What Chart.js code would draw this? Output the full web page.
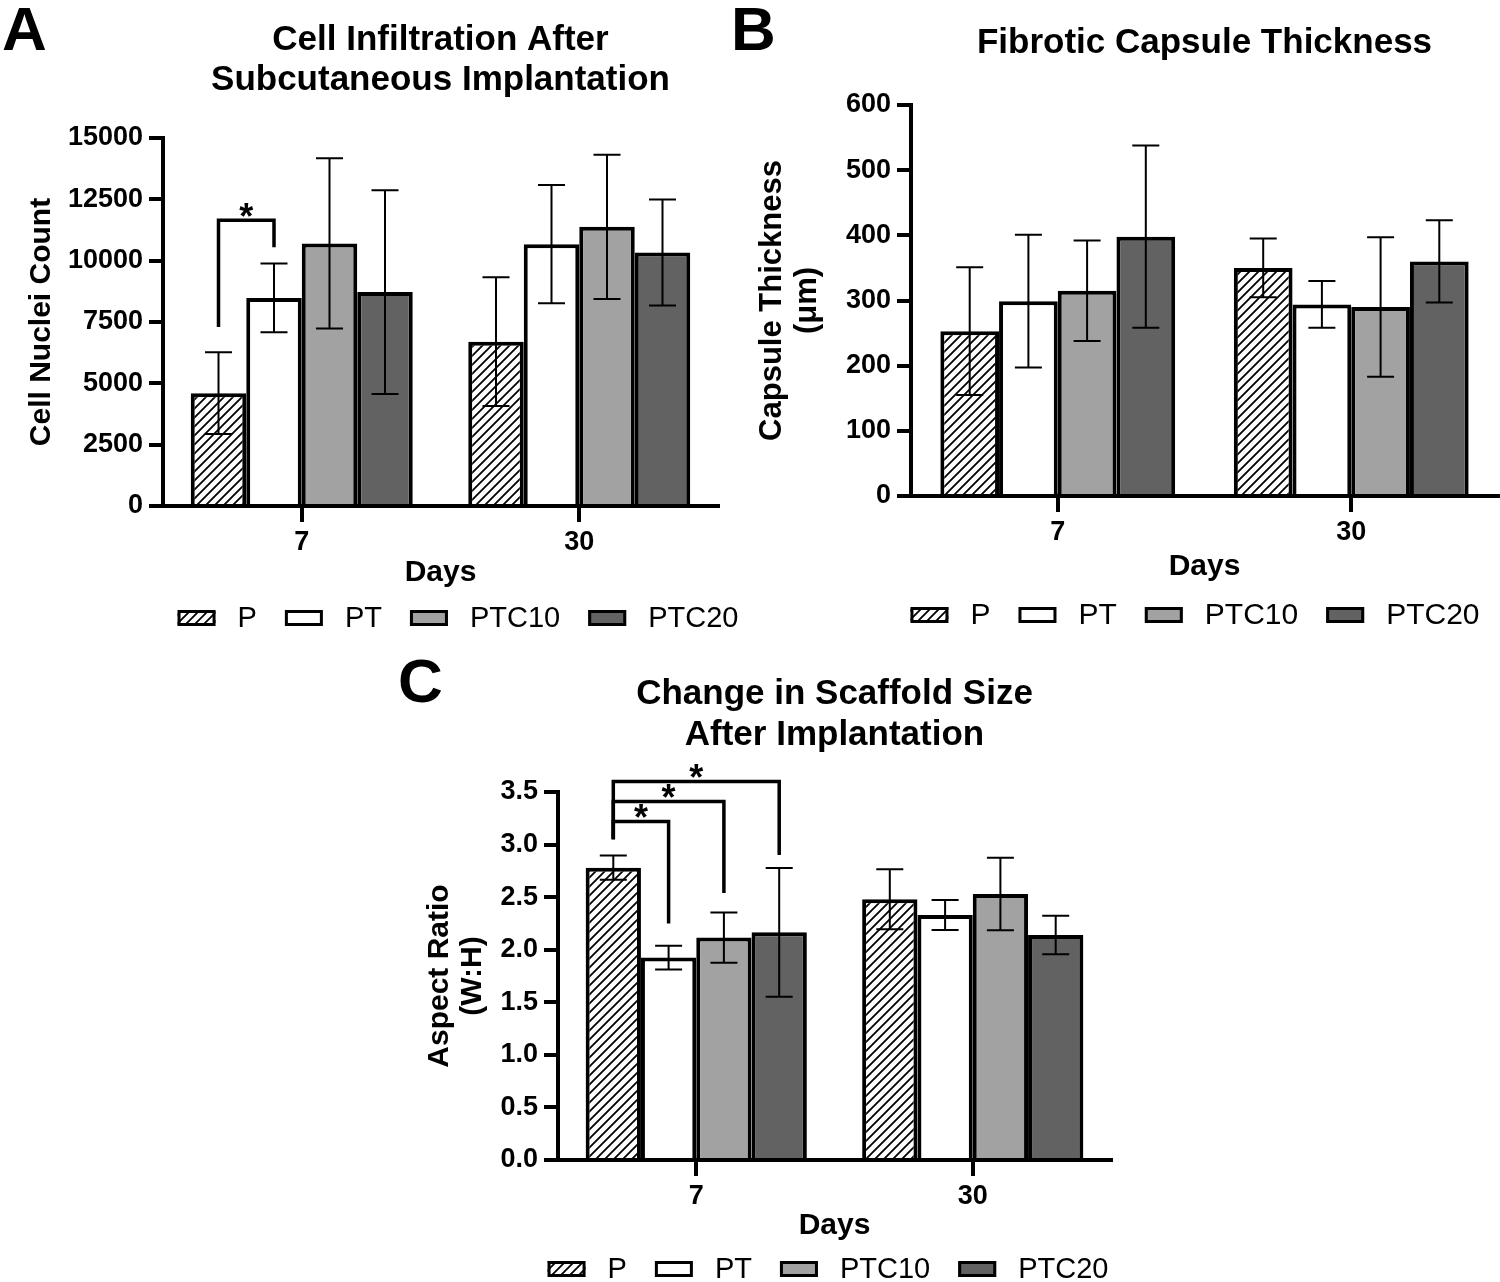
<!DOCTYPE html>
<html>
<head>
<meta charset="utf-8">
<script src="https://cdn.jsdelivr.net/npm/chart.js@4.4.1/dist/chart.umd.min.js"></script>
<style>
html, body { margin: 0; padding: 0; background: #fff; }
#wrap { position: relative; width: 1500px; height: 1282px; overflow: hidden; }
#wrap canvas { position: absolute; left: 0; top: 0; }
</style>
</head>
<body>
<div id="wrap">
<canvas id="chartA" width="1500" height="1282"></canvas>
<canvas id="chartB" width="1500" height="1282"></canvas>
<canvas id="chartC" width="1500" height="1282"></canvas>
</div>
<script>
// categories and groups
const days = ['7', '30'];
const groups = ['P', 'PT', 'PTC10', 'PTC20'];

// A: cell nuclei count, one row per group, [day 7, day 30]
const nucleiMean = [[4600, 6700], [8480, 10670], [10700, 11380], [8720, 10330]];
const nucleiSd = [[1670, 2620], [1400, 2410], [3470, 2940], [4150, 2160]];
// [day, group a, group b, leg a end, bracket level, leg b end]
const nucleiSig = [[0, 0, 1, 7300, 11650, 10550]];

// B: capsule thickness (um)
const capsuleMean = [[253, 350], [299, 294], [315, 290], [398, 360]];
const capsuleSd = [[98, 45], [102, 36], [77, 107], [140, 63]];

// C: aspect ratio (W:H)
const ratioMean = [[2.78, 2.48], [1.925, 2.33], [2.115, 2.53], [2.165, 2.14]];
const ratioSd = [[0.115, 0.285], [0.113, 0.143], [0.24, 0.345], [0.613, 0.182]];
const ratioSig = [
    [0, 0, 1, 3.05, 3.22, 2.25],
    [0, 0, 2, 3.05, 3.41, 2.54],
    [0, 0, 3, 3.05, 3.60, 2.90],
];

const FAMILY = '"Liberation Sans", Arial, Helvetica, sans-serif';
const W = 1500, H = 1282;

function hatchPattern() {
    const size = 9;
    const c = document.createElement('canvas');
    c.width = size;
    c.height = size;
    const g = c.getContext('2d');
    g.fillStyle = '#ffffff';
    g.fillRect(0, 0, size, size);
    g.strokeStyle = '#000000';
    g.lineWidth = 1.8;
    g.beginPath();
    g.moveTo(-1, size + 1); g.lineTo(size + 1, -1);
    g.moveTo(-1, 1); g.lineTo(1, -1);
    g.moveTo(size - 1, size + 1); g.lineTo(size + 1, size - 1);
    g.stroke();
    return g.createPattern(c, 'repeat');
}

const fills = [hatchPattern(), '#ffffff', '#a2a2a2', '#626262'];

/**
 * Draws error bars, panel letter, title, legend and significance brackets.
 */
const decorPlugin = {
    id: 'decor',
    afterDatasetsDraw(chart) {
        const ctx = chart.ctx;
        const y = chart.scales.y;
        ctx.save();
        ctx.strokeStyle = '#000';
        ctx.lineWidth = 2;
        chart.data.datasets.forEach((ds, i) => {
            chart.getDatasetMeta(i).data.forEach((bar, j) => {
                const hi = y.getPixelForValue(ds.data[j] + ds.sd[j]);
                const lo = y.getPixelForValue(ds.data[j] - ds.sd[j]);
                const cap = 13.5;
                ctx.beginPath();
                ctx.moveTo(bar.x, hi); ctx.lineTo(bar.x, lo);
                ctx.moveTo(bar.x - cap, hi); ctx.lineTo(bar.x + cap, hi);
                ctx.moveTo(bar.x - cap, lo); ctx.lineTo(bar.x + cap, lo);
                ctx.stroke();
            });
        });
        ctx.restore();
    },
    afterDraw(chart, args, opts) {
        const ctx = chart.ctx;
        const area = chart.chartArea;
        const y = chart.scales.y;
        ctx.save();
        ctx.fillStyle = '#000';

        // panel letter
        ctx.font = 'bold 62px ' + FAMILY;
        ctx.textAlign = 'left';
        ctx.textBaseline = 'alphabetic';
        ctx.fillText(opts.letter.text, opts.letter.x, opts.letter.y);

        // title, centred over the plot
        ctx.font = 'bold 35px ' + FAMILY;
        ctx.textAlign = 'center';
        const cx = (area.left + area.right) / 2;
        opts.title.lines.forEach((line, i) => {
            ctx.fillText(line, cx, opts.title.baselines[i]);
        });

        // significance brackets
        (opts.sig || []).forEach(s => {
            const xa = chart.getDatasetMeta(s[1]).data[s[0]].x;
            const xb = chart.getDatasetMeta(s[2]).data[s[0]].x;
            const ya = y.getPixelForValue(s[3]);
            const yl = y.getPixelForValue(s[4]);
            const yb = y.getPixelForValue(s[5]);
            ctx.strokeStyle = '#000';
            ctx.lineWidth = 3.5;
            ctx.lineJoin = 'miter';
            ctx.beginPath();
            ctx.moveTo(xa, ya); ctx.lineTo(xa, yl); ctx.lineTo(xb, yl); ctx.lineTo(xb, yb);
            ctx.stroke();
            ctx.font = 'bold 36px ' + FAMILY;
            ctx.textAlign = 'center';
            ctx.textBaseline = 'alphabetic';
            ctx.fillText('*', (xa + xb) / 2, yl + 9);
        });

        // legend
        const lg = opts.legend;
        ctx.font = lg.size + 'px ' + FAMILY;
        ctx.textBaseline = 'middle';
        ctx.textAlign = 'left';
        const boxW = 38, boxH = 16, gapText = 22, gapItem = 28;
        const widths = chart.data.datasets.map(ds => ctx.measureText(ds.label).width);
        let total = 0;
        widths.forEach((w, i) => {
            total += boxW + gapText + w + (i < widths.length - 1 ? gapItem : 0);
        });
        let x = lg.cx - total / 2;
        chart.data.datasets.forEach((ds, i) => {
            ctx.fillStyle = ds.backgroundColor;
            ctx.fillRect(x, lg.cy - boxH / 2, boxW, boxH);
            ctx.strokeStyle = '#000';
            ctx.lineWidth = 3;
            ctx.strokeRect(x + 1.5, lg.cy - boxH / 2 + 1.5, boxW - 3, boxH - 3);
            ctx.fillStyle = '#000';
            ctx.fillText(ds.label, x + boxW + gapText, lg.cy + 1);
            x += boxW + gapText + widths[i] + gapItem;
        });
        ctx.restore();
    },
};

function makeDatasets(means, sds) {
    return groups.map((name, i) => ({
        label: name,
        data: means[i],
        sd: sds[i],
        backgroundColor: fills[i],
        borderColor: '#000',
        borderWidth: 4,
    }));
}

function buildChart(id, p) {
    const tickFont = {family: FAMILY, size: 27, weight: 'bold'};
    const yAxisWidth = p.plot.left - p.yTitleLeft;
    return new Chart(document.getElementById(id), {
        type: 'bar',
        data: {
            labels: days,
            datasets: makeDatasets(p.means, p.sds),
        },
        options: {
            responsive: false,
            animation: false,
            devicePixelRatio: 1,
            layout: {
                padding: {
                    left: p.yTitleLeft,
                    right: W - p.plot.right,
                    top: p.plot.top,
                    bottom: H - p.plot.bottom - p.xAxisHeight,
                },
            },
            datasets: {
                bar: {categoryPercentage: 0.8, barPercentage: 1},
            },
            plugins: {
                legend: {display: false},
                tooltip: {enabled: false},
                decor: {
                    letter: p.letter,
                    title: p.title,
                    legend: p.legend,
                    sig: p.sig,
                },
            },
            scales: {
                x: {
                    afterFit: s => { s.height = p.xAxisHeight; },
                    border: {display: true, width: 4, color: '#000'},
                    grid: {drawOnChartArea: false, offset: false, tickLength: 16, lineWidth: 4, color: '#000'},
                    ticks: {font: tickFont, color: '#000', padding: 4, maxRotation: 0},
                    title: {
                        display: true, text: 'Days', color: '#000', padding: 0,
                        font: {family: FAMILY, size: 30, weight: 'bold', lineHeight: 1.2},
                    },
                },
                y: {
                    min: 0,
                    max: p.yMax,
                    afterFit: s => { s.width = yAxisWidth; },
                    border: {display: true, width: 4, color: '#000'},
                    grid: {drawOnChartArea: false, tickLength: 14, lineWidth: 4, color: '#000'},
                    ticks: {
                        stepSize: p.yStep, font: tickFont, color: '#000', padding: 6,
                        callback: v => Number(v).toFixed(p.decimals),
                    },
                    title: {
                        display: true, text: p.yTitle, color: '#000', padding: 0,
                        font: {family: FAMILY, size: p.yTitleSize, weight: 'bold', lineHeight: p.yTitleLineHeight},
                    },
                },
            },
        },
        plugins: [decorPlugin],
    });
}

buildChart('chartA', {
    means: nucleiMean, sds: nucleiSd, sig: nucleiSig,
    yMax: 15000, yStep: 2500, decimals: 0,
    plot: {left: 163, right: 718, top: 138, bottom: 506},
    yTitleLeft: 24, xAxisHeight: 85,
    yTitle: 'Cell Nuclei Count', yTitleSize: 30, yTitleLineHeight: 1.2,
    letter: {text: 'A', x: 2, y: 50},
    title: {lines: ['Cell Infiltration After', 'Subcutaneous Implantation'], baselines: [50, 90]},
    legend: {cx: 458, cy: 618, size: 29},
});

buildChart('chartB', {
    means: capsuleMean, sds: capsuleSd, sig: [],
    yMax: 600, yStep: 100, decimals: 0,
    plot: {left: 911, right: 1498, top: 105, bottom: 496},
    yTitleLeft: 755, xAxisHeight: 89,
    yTitle: ['Capsule Thickness', '(\u03bcm)'], yTitleSize: 31, yTitleLineHeight: '35px',
    letter: {text: 'B', x: 731, y: 50},
    title: {lines: ['Fibrotic Capsule Thickness'], baselines: [53]},
    legend: {cx: 1195, cy: 615, size: 30},
});

buildChart('chartC', {
    means: ratioMean, sds: ratioSd, sig: ratioSig,
    yMax: 3.5, yStep: 0.5, decimals: 1,
    plot: {left: 558, right: 1111, top: 792, bottom: 1160},
    yTitleLeft: 423, xAxisHeight: 84,
    yTitle: ['Aspect Ratio', '(W:H)'], yTitleSize: 30, yTitleLineHeight: '33px',
    letter: {text: 'C', x: 398, y: 702},
    title: {lines: ['Change in Scaffold Size', 'After Implantation'], baselines: [704, 745]},
    legend: {cx: 828, cy: 1269, size: 29},
});
</script>
</body>
</html>
